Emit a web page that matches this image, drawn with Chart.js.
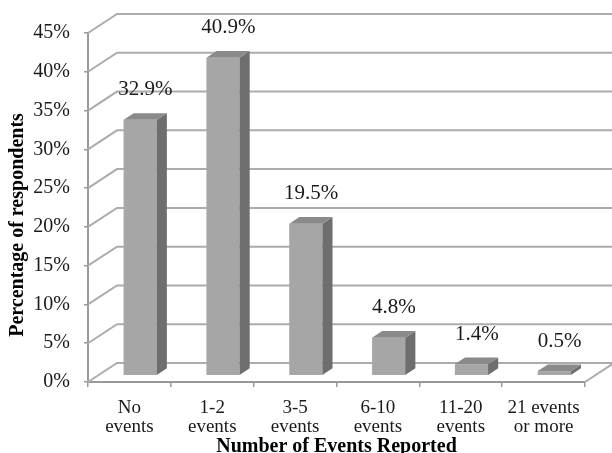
<!DOCTYPE html>
<html>
<head>
<meta charset="utf-8">
<script src="https://cdn.jsdelivr.net/npm/chart.js@4"></script>
<style>
  html, body { margin: 0; padding: 0; background: #ffffff; }
  #wrap { width: 612px; height: 453px; }
</style>
</head>
<body>
<div id="wrap"><canvas id="chart" width="612" height="453"></canvas></div>
<script>
// Survey results: share of respondents by number of events reported
const categories = [
  ['No', 'events'],
  ['1-2', 'events'],
  ['3-5', 'events'],
  ['6-10', 'events'],
  ['11-20', 'events'],
  ['21 events', 'or more']
];
const percentages = [32.9, 40.9, 19.5, 4.8, 1.4, 0.5];
const yTicks = [0, 5, 10, 15, 20, 25, 30, 35, 40, 45];

const yTitle = 'Percentage of respondents';
const xTitle = 'Number of Events Reported';

// Depth of the 3-D box (back wall offset) and where the bars sit inside it
const DEPTH_X = 29;
const DEPTH_Y = -19;
const BAR_FRONT = 0.37;
const BAR_BACK = 0.72;

const SERIF = '"Liberation Serif", "Times New Roman", serif';
const GRID = '#acacac';

const box3d = {
  id: 'box3d',
  beforeDatasetsDraw(chart) {
    const { ctx, chartArea: a, scales: { y } } = chart;
    ctx.save();
    ctx.strokeStyle = GRID;
    ctx.lineWidth = 2;
    ctx.lineJoin = 'miter';
    // side wall diagonals + back wall gridlines
    yTicks.forEach(t => {
      const py = y.getPixelForValue(t);
      ctx.beginPath();
      ctx.moveTo(a.left, py);
      ctx.lineTo(a.left + DEPTH_X, py + DEPTH_Y);
      ctx.lineTo(a.right + DEPTH_X, py + DEPTH_Y);
      ctx.stroke();
    });
    // floor right edge
    const base = y.getPixelForValue(0);
    ctx.beginPath();
    ctx.moveTo(a.right, base);
    ctx.lineTo(a.right + DEPTH_X, base + DEPTH_Y);
    ctx.stroke();
    ctx.restore();
  },
  afterDatasetsDraw(chart) {
    const { ctx, scales: { y } } = chart;
    const meta = chart.getDatasetMeta(0);
    const f0x = BAR_FRONT * DEPTH_X, f0y = BAR_FRONT * DEPTH_Y;
    const dx = (BAR_BACK - BAR_FRONT) * DEPTH_X;
    const dy = (BAR_BACK - BAR_FRONT) * DEPTH_Y;
    const zero = y.getPixelForValue(0);
    ctx.save();
    meta.data.forEach((bar, i) => {
      const w = bar.width;
      const x0 = bar.x - w / 2 + f0x;
      const x1 = x0 + w;
      const top = bar.y + f0y;
      const bottom = zero + f0y;
      // front face
      ctx.fillStyle = '#a6a6a6';
      ctx.fillRect(x0, top, w, bottom - top);
      // side face
      ctx.fillStyle = '#6e6e6e';
      ctx.beginPath();
      ctx.moveTo(x1, top);
      ctx.lineTo(x1 + dx, top + dy);
      ctx.lineTo(x1 + dx, bottom + dy);
      ctx.lineTo(x1, bottom);
      ctx.closePath();
      ctx.fill();
      // top face
      ctx.fillStyle = '#8a8a8a';
      ctx.beginPath();
      ctx.moveTo(x0, top);
      ctx.lineTo(x1, top);
      ctx.lineTo(x1 + dx, top + dy);
      ctx.lineTo(x0 + dx, top + dy);
      ctx.closePath();
      ctx.fill();
      // value label
      ctx.fillStyle = '#1a1a1a';
      ctx.font = '21px ' + SERIF;
      ctx.textAlign = 'center';
      ctx.textBaseline = 'middle';
      ctx.fillText(percentages[i].toFixed(1) + '%', bar.x + 16, top - 30);
    });
    ctx.restore();
  },
  afterDraw(chart) {
    const { ctx } = chart;
    ctx.save();
    ctx.translate(17.5, 225);
    ctx.rotate(-Math.PI / 2);
    ctx.fillStyle = '#000000';
    ctx.font = 'bold 20px ' + SERIF;
    ctx.textAlign = 'center';
    ctx.textBaseline = 'middle';
    ctx.fillText(yTitle, 0, 0);
    ctx.restore();
  }
};

new Chart(document.getElementById('chart'), {
  type: 'bar',
  data: {
    labels: categories,
    datasets: [{
      data: percentages,
      backgroundColor: 'rgba(0,0,0,0)',
      borderWidth: 0,
      barPercentage: 0.4,
      categoryPercentage: 1
    }]
  },
  options: {
    responsive: false,
    devicePixelRatio: 1,
    animation: false,
    events: [],
    layout: { padding: { left: 0, top: 33, right: 27, bottom: 0 } },
    plugins: { legend: { display: false }, tooltip: { enabled: false } },
    scales: {
      x: {
        grid: { display: true, drawOnChartArea: false, drawTicks: true, tickLength: 5, color: '#999999', lineWidth: 1.5, offset: true },
        border: { display: true, color: '#999999', width: 2 },
        ticks: {
          color: '#1a1a1a',
          font: { family: SERIF, size: 19, lineHeight: 1 },
          padding: 12,
          maxRotation: 0,
          autoSkip: false
        },
        title: {
          display: true,
          text: xTitle,
          color: '#000000',
          font: { family: SERIF, size: 20, weight: 'bold', lineHeight: 1 },
          padding: { top: 0, bottom: -4 }
        },
        afterFit(scale) { scale.height = 71; }
      },
      y: {
        min: 0,
        max: 45,
        afterBuildTicks(scale) { scale.ticks = yTicks.map(v => ({ value: v })); },
        grid: { display: true, drawOnChartArea: false, drawTicks: true, tickLength: 4, color: '#999999', lineWidth: 1.5 },
        border: { display: true, color: '#999999', width: 2 },
        ticks: {
          color: '#1a1a1a',
          font: { family: SERIF, size: 20, lineHeight: 1 },
          padding: 14,
          callback: v => v + '%'
        },
        afterFit(scale) { scale.width = 88; }
      }
    }
  },
  plugins: [box3d]
});
</script>
</body>
</html>
